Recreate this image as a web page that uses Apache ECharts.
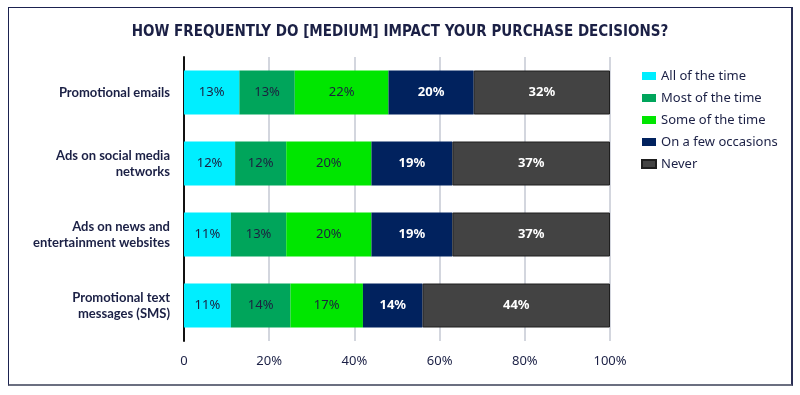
<!DOCTYPE html>
<html>
<head>
<meta charset="utf-8">
<script src="https://cdn.jsdelivr.net/npm/echarts@6/dist/echarts.min.js"></script>
<style>
html,body{margin:0;padding:0;background:#fff;}
#frame{position:absolute;left:8px;top:7px;width:782px;height:376px;border:1px solid #1b2250;border-bottom:2px solid #6b6f80;border-right:2px solid #2a2f55;}
#chart{position:absolute;left:0;top:0;width:800px;height:395px;}
</style>
</head>
<body>
<div id="frame"></div>
<div id="chart"></div>
<script>
const categories = [
  "Promotional emails",
  "Ads on social media\nnetworks",
  "Ads on news and\nentertainment websites",
  "Promotional text\nmessages (SMS)"
];
const seriesNames = ["All of the time", "Most of the time", "Some of the time", "On a few occasions", "Never"];
const allOfTheTime = [13, 12, 11, 11];
const mostOfTheTime = [13, 12, 13, 14];
const someOfTheTime = [22, 20, 20, 17];
const onAFewOccasions = [20, 19, 19, 14];
const never = [32, 37, 37, 44];
const xTicks = [0, 20, 40, 60, 80, 100];

const seriesValues = [allOfTheTime, mostOfTheTime, someOfTheTime, onAFewOccasions, never];
const colors = ["#00eeff", "#00a55b", "#00e600", "#01225e", "#434343"];
const labelColors = ["#1b2040", "#1b2040", "#1b2040", "#ffffff", "#ffffff"];
const labelWeights = ["normal", "normal", "normal", "bold", "bold"];

const chart = echarts.init(document.getElementById('chart'), null, {renderer: 'canvas'});
const FONT = "'Noto Sans', sans-serif";

const option = {
  animation: false,
  title: {
    text: "HOW FREQUENTLY DO [MEDIUM] IMPACT YOUR PURCHASE DECISIONS?",
    left: 'center',
    top: 20,
    textStyle: {
      fontFamily: "'DejaVu Sans Condensed', 'DejaVu Sans', sans-serif",
      fontWeight: 'bold',
      fontSize: 15,
      color: '#1b2045'
    }
  },
  legend: {
    orient: 'vertical',
    left: 636,
    top: 62,
    itemWidth: 14,
    itemHeight: 8,
    itemGap: 4,
    icon: 'rect',
    data: seriesNames,
    textStyle: {fontFamily: FONT, fontSize: 13, color: '#1b2045', lineHeight: 18}
  },
  grid: {left: 184, top: 57, width: 426, height: 284, containLabel: false},
  xAxis: {
    type: 'value',
    min: 0, max: 100, interval: 20,
    axisLine: {show: false},
    axisTick: {show: false},
    splitLine: {lineStyle: {color: '#d3d6de', width: 2}},
    axisLabel: {
      margin: 14,
      fontFamily: FONT, fontSize: 13, color: '#1b2045',
      formatter: function (v) { return v === 0 ? '0' : v + '%'; }
    }
  },
  yAxis: {
    type: 'category',
    inverse: true,
    data: categories,
    axisLine: {show: true, lineStyle: {color: '#111', width: 2}},
    axisTick: {show: false},
    axisLabel: {
      margin: 14,
      fontFamily: "Lato, 'Noto Sans', sans-serif", fontSize: 13, fontWeight: 'bold', color: '#1b2045',
      align: 'right', lineHeight: 16
    }
  },
  series: seriesValues.map(function (vals, i) {
    return {
      name: seriesNames[i],
      type: 'bar',
      stack: 'total',
      barWidth: 44,
      data: vals,
      itemStyle: i === 4 ? {color: colors[i], borderColor: '#1e1e1e', borderWidth: 1} : {color: colors[i]},
      label: {
        show: true,
        position: 'inside',
        formatter: '{c}%',
        fontFamily: FONT,
        fontSize: 13,
        fontWeight: labelWeights[i],
        color: labelColors[i]
      }
    };
  })
};
chart.setOption(option);
</script>
</body>
</html>
